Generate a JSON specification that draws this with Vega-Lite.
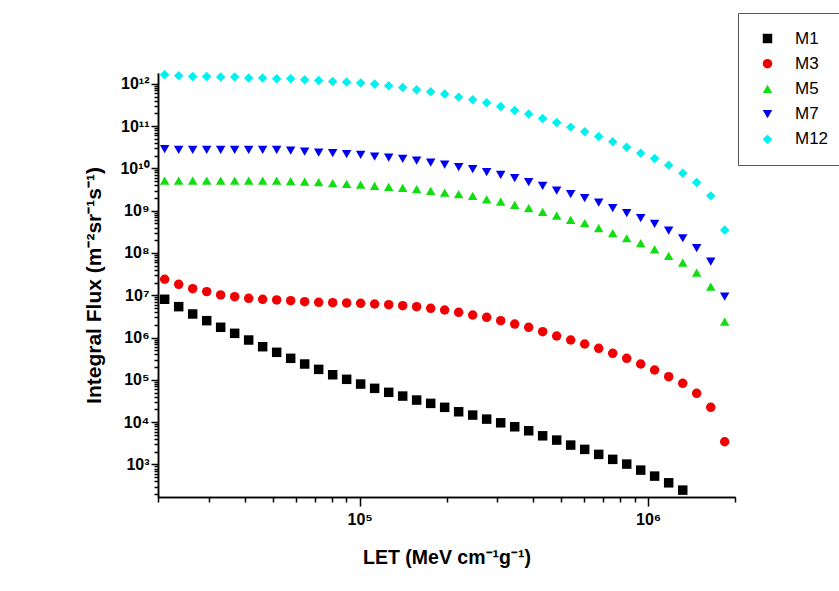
{
  "$schema": "https://vega.github.io/schema/vega-lite/v6.json",
  "width": 577,
  "height": 424,
  "autosize": "none",
  "padding": {"left": 158, "top": 73, "right": 104, "bottom": 94},
  "background": "white",
  "config": {"view": {"stroke": null}, "font": "Liberation Sans"},
  "datasets": {
    "flux": [
      {"s":"M1","x":21090,"y":8.04e6},{"s":"M1","x":23590,"y":5.38e6},{"s":"M1","x":26380,"y":3.61e6},{"s":"M1","x":29500,"y":2.51e6},{"s":"M1","x":32980,"y":1.75e6},{"s":"M1","x":36880,"y":1.26e6},{"s":"M1","x":41240,"y":8.75e5},{"s":"M1","x":46110,"y":6.08e5},{"s":"M1","x":51570,"y":4.48e5},{"s":"M1","x":57670,"y":3.23e5},{"s":"M1","x":64480,"y":2.37e5},{"s":"M1","x":72100,"y":1.77e5},{"s":"M1","x":80640,"y":1.32e5},{"s":"M1","x":90150,"y":1.03e5},{"s":"M1","x":100800,"y":7.96e4},{"s":"M1","x":112700,"y":6.30e4},{"s":"M1","x":126100,"y":5.07e4},{"s":"M1","x":141000,"y":4.14e4},{"s":"M1","x":157600,"y":3.33e4},{"s":"M1","x":176300,"y":2.78e4},{"s":"M1","x":197100,"y":2.24e4},{"s":"M1","x":220400,"y":1.76e4},{"s":"M1","x":246500,"y":1.47e4},{"s":"M1","x":275600,"y":1.18e4},{"s":"M1","x":308200,"y":9660},{"s":"M1","x":344700,"y":7780},{"s":"M1","x":385400,"y":6250},{"s":"M1","x":430900,"y":4760},{"s":"M1","x":481900,"y":3770},{"s":"M1","x":538900,"y":2870},{"s":"M1","x":602600,"y":2270},{"s":"M1","x":673900,"y":1730},{"s":"M1","x":753700,"y":1320},{"s":"M1","x":842700,"y":1020},{"s":"M1","x":942200,"y":735},{"s":"M1","x":1053000,"y":530},{"s":"M1","x":1178000,"y":368},{"s":"M1","x":1318000,"y":247},
      {"s":"M3","x":21090,"y":2.39e7},{"s":"M3","x":23590,"y":1.82e7},{"s":"M3","x":26380,"y":1.43e7},{"s":"M3","x":29500,"y":1.22e7},{"s":"M3","x":32980,"y":1.02e7},{"s":"M3","x":36880,"y":9.27e6},{"s":"M3","x":41240,"y":8.48e6},{"s":"M3","x":46110,"y":8.04e6},{"s":"M3","x":51570,"y":7.74e6},{"s":"M3","x":57670,"y":7.45e6},{"s":"M3","x":64480,"y":7.06e6},{"s":"M3","x":72100,"y":6.83e6},{"s":"M3","x":80640,"y":6.68e6},{"s":"M3","x":90150,"y":6.58e6},{"s":"M3","x":100800,"y":6.46e6},{"s":"M3","x":112700,"y":6.22e6},{"s":"M3","x":126100,"y":6.00e6},{"s":"M3","x":141000,"y":5.68e6},{"s":"M3","x":157600,"y":5.38e6},{"s":"M3","x":176300,"y":4.92e6},{"s":"M3","x":197100,"y":4.49e6},{"s":"M3","x":220400,"y":3.96e6},{"s":"M3","x":246500,"y":3.42e6},{"s":"M3","x":275600,"y":3.01e6},{"s":"M3","x":308200,"y":2.51e6},{"s":"M3","x":344700,"y":2.09e6},{"s":"M3","x":385400,"y":1.75e6},{"s":"M3","x":430900,"y":1.38e6},{"s":"M3","x":481900,"y":1.09e6},{"s":"M3","x":538900,"y":8.75e5},{"s":"M3","x":602600,"y":7.04e5},{"s":"M3","x":673900,"y":5.57e5},{"s":"M3","x":753700,"y":4.25e5},{"s":"M3","x":842700,"y":3.23e5},{"s":"M3","x":942200,"y":2.37e5},{"s":"M3","x":1053000,"y":1.71e5},{"s":"M3","x":1178000,"y":1.19e5},{"s":"M3","x":1318000,"y":8.28e4},{"s":"M3","x":1473000,"y":4.80e4},{"s":"M3","x":1648000,"y":2.24e4},{"s":"M3","x":1842000,"y":3440},
      {"s":"M5","x":21090,"y":5.15e9},{"s":"M5","x":23590,"y":5.15e9},{"s":"M5","x":26380,"y":5.15e9},{"s":"M5","x":29500,"y":5.15e9},{"s":"M5","x":32980,"y":5.15e9},{"s":"M5","x":36880,"y":5.15e9},{"s":"M5","x":41240,"y":5.15e9},{"s":"M5","x":46110,"y":5.15e9},{"s":"M5","x":51570,"y":5.15e9},{"s":"M5","x":57670,"y":4.98e9},{"s":"M5","x":64480,"y":4.89e9},{"s":"M5","x":72100,"y":4.72e9},{"s":"M5","x":80640,"y":4.47e9},{"s":"M5","x":90150,"y":4.31e9},{"s":"M5","x":100800,"y":4.15e9},{"s":"M5","x":112700,"y":3.86e9},{"s":"M5","x":126100,"y":3.65e9},{"s":"M5","x":141000,"y":3.46e9},{"s":"M5","x":157600,"y":3.22e9},{"s":"M5","x":176300,"y":2.94e9},{"s":"M5","x":197100,"y":2.68e9},{"s":"M5","x":220400,"y":2.45e9},{"s":"M5","x":246500,"y":2.24e9},{"s":"M5","x":275600,"y":1.86e9},{"s":"M5","x":308200,"y":1.64e9},{"s":"M5","x":344700,"y":1.37e9},{"s":"M5","x":385400,"y":1.15e9},{"s":"M5","x":430900,"y":9.36e8},{"s":"M5","x":481900,"y":7.66e8},{"s":"M5","x":538900,"y":6.06e8},{"s":"M5","x":602600,"y":5.06e8},{"s":"M5","x":673900,"y":3.85e8},{"s":"M5","x":753700,"y":2.93e8},{"s":"M5","x":842700,"y":2.23e8},{"s":"M5","x":942200,"y":1.70e8},{"s":"M5","x":1053000,"y":1.22e8},{"s":"M5","x":1178000,"y":8.51e7},{"s":"M5","x":1318000,"y":5.91e7},{"s":"M5","x":1473000,"y":3.43e7},{"s":"M5","x":1648000,"y":1.60e7},{"s":"M5","x":1842000,"y":2.37e6},
      {"s":"M7","x":21090,"y":2.85e10},{"s":"M7","x":23590,"y":2.74e10},{"s":"M7","x":26380,"y":2.74e10},{"s":"M7","x":29500,"y":2.74e10},{"s":"M7","x":32980,"y":2.74e10},{"s":"M7","x":36880,"y":2.74e10},{"s":"M7","x":41240,"y":2.74e10},{"s":"M7","x":46110,"y":2.74e10},{"s":"M7","x":51570,"y":2.74e10},{"s":"M7","x":57670,"y":2.64e10},{"s":"M7","x":64480,"y":2.50e10},{"s":"M7","x":72100,"y":2.37e10},{"s":"M7","x":80640,"y":2.29e10},{"s":"M7","x":90150,"y":2.17e10},{"s":"M7","x":100800,"y":2.09e10},{"s":"M7","x":112700,"y":1.90e10},{"s":"M7","x":126100,"y":1.80e10},{"s":"M7","x":141000,"y":1.68e10},{"s":"M7","x":157600,"y":1.53e10},{"s":"M7","x":176300,"y":1.37e10},{"s":"M7","x":197100,"y":1.23e10},{"s":"M7","x":220400,"y":1.07e10},{"s":"M7","x":246500,"y":9.57e9},{"s":"M7","x":275600,"y":8.13e9},{"s":"M7","x":308200,"y":7.03e9},{"s":"M7","x":344700,"y":5.86e9},{"s":"M7","x":385400,"y":4.72e9},{"s":"M7","x":430900,"y":3.86e9},{"s":"M7","x":481900,"y":2.99e9},{"s":"M7","x":538900,"y":2.45e9},{"s":"M7","x":602600,"y":1.97e9},{"s":"M7","x":673900,"y":1.55e9},{"s":"M7","x":753700,"y":1.15e9},{"s":"M7","x":842700,"y":8.72e8},{"s":"M7","x":942200,"y":6.64e8},{"s":"M7","x":1053000,"y":4.87e8},{"s":"M7","x":1178000,"y":3.38e8},{"s":"M7","x":1318000,"y":2.23e8},{"s":"M7","x":1473000,"y":1.30e8},{"s":"M7","x":1648000,"y":6.24e7},{"s":"M7","x":1842000,"y":9.27e6},
      {"s":"M12","x":21090,"y":1.63e12},{"s":"M12","x":23590,"y":1.55e12},{"s":"M12","x":26380,"y":1.49e12},{"s":"M12","x":29500,"y":1.49e12},{"s":"M12","x":32980,"y":1.44e12},{"s":"M12","x":36880,"y":1.44e12},{"s":"M12","x":41240,"y":1.37e12},{"s":"M12","x":46110,"y":1.37e12},{"s":"M12","x":51570,"y":1.31e12},{"s":"M12","x":57670,"y":1.31e12},{"s":"M12","x":64480,"y":1.24e12},{"s":"M12","x":72100,"y":1.20e12},{"s":"M12","x":80640,"y":1.13e12},{"s":"M12","x":90150,"y":1.10e12},{"s":"M12","x":100800,"y":1.04e12},{"s":"M12","x":112700,"y":9.84e11},{"s":"M12","x":126100,"y":8.97e11},{"s":"M12","x":141000,"y":8.17e11},{"s":"M12","x":157600,"y":7.21e11},{"s":"M12","x":176300,"y":6.47e11},{"s":"M12","x":197100,"y":5.71e11},{"s":"M12","x":220400,"y":4.84e11},{"s":"M12","x":246500,"y":4.18e11},{"s":"M12","x":275600,"y":3.55e11},{"s":"M12","x":308200,"y":2.90e11},{"s":"M12","x":344700,"y":2.34e11},{"s":"M12","x":385400,"y":1.92e11},{"s":"M12","x":430900,"y":1.51e11},{"s":"M12","x":481900,"y":1.22e11},{"s":"M12","x":538900,"y":9.45e10},{"s":"M12","x":602600,"y":7.31e10},{"s":"M12","x":673900,"y":5.66e10},{"s":"M12","x":753700,"y":4.24e10},{"s":"M12","x":842700,"y":3.18e10},{"s":"M12","x":942200,"y":2.29e10},{"s":"M12","x":1053000,"y":1.71e10},{"s":"M12","x":1178000,"y":1.19e10},{"s":"M12","x":1318000,"y":7.71e9},{"s":"M12","x":1473000,"y":4.62e9},{"s":"M12","x":1648000,"y":2.24e9},{"s":"M12","x":1842000,"y":3.51e8}
    ]
  },
  "data": {"name": "flux"},
  "resolve": {"axis": {"x": "independent", "y": "independent"}},
  "layer": [
    {
      "mark": {"type": "point", "filled": true, "opacity": 0, "size": 10},
      "encoding": {
        "x": {
          "field": "x", "type": "quantitative",
          "scale": {"type": "log", "domain": [20000, 2000000], "nice": false},
          "axis": {
            "orient": "bottom",
            "values": [20000,30000,40000,50000,60000,70000,80000,90000,200000,300000,400000,500000,600000,700000,800000,900000,2000000],
            "labels": false, "title": null,
            "domainColor": "black", "domainWidth": 1.5,
            "tickColor": "black", "tickWidth": 1.5, "tickSize": 5,
            "grid": false
          }
        },
        "y": {
          "field": "y", "type": "quantitative",
          "scale": {"type": "log", "domain": [170, 1.8e12], "nice": false},
          "axis": {
            "orient": "left",
            "values": [2e2,3e2,4e2,5e2,6e2,7e2,8e2,9e2,2e3,3e3,4e3,5e3,6e3,7e3,8e3,9e3,2e4,3e4,4e4,5e4,6e4,7e4,8e4,9e4,2e5,3e5,4e5,5e5,6e5,7e5,8e5,9e5,2e6,3e6,4e6,5e6,6e6,7e6,8e6,9e6,2e7,3e7,4e7,5e7,6e7,7e7,8e7,9e7,2e8,3e8,4e8,5e8,6e8,7e8,8e8,9e8,2e9,3e9,4e9,5e9,6e9,7e9,8e9,9e9,2e10,3e10,4e10,5e10,6e10,7e10,8e10,9e10,2e11,3e11,4e11,5e11,6e11,7e11,8e11,9e11],
            "labels": false, "title": null,
            "domainColor": "black", "domainWidth": 1.5,
            "tickColor": "black", "tickWidth": 1.5, "tickSize": 4,
            "grid": false
          }
        }
      }
    },
    {
      "mark": {"type": "point", "filled": true, "opacity": 1, "size": 90, "strokeWidth": 0},
      "encoding": {
        "x": {
          "field": "x", "type": "quantitative",
          "axis": {
            "orient": "bottom",
            "values": [100000, 1000000],
            "labelExpr": "datum.value == 100000 ? '10⁵' : '10⁶'",
            "title": "LET (MeV cm⁻¹g⁻¹)",
            "titleFontSize": 19.5, "titleFontWeight": "bold", "titleColor": "black",
            "titleY": 60, "titleBaseline": "middle",
            "labelFontSize": 16, "labelFontWeight": "bold", "labelColor": "black",
            "labelPadding": 5, "labelFlush": false, "labelOverlap": false,
            "domainColor": "black", "domainWidth": 1.5,
            "tickColor": "black", "tickWidth": 1.5, "tickSize": 9,
            "grid": false
          }
        },
        "y": {
          "field": "y", "type": "quantitative",
          "axis": {
            "orient": "left",
            "values": [1e3,1e4,1e5,1e6,1e7,1e8,1e9,1e10,1e11,1e12],
            "labelExpr": "datum.value == 1e3 ? '10³' : datum.value == 1e4 ? '10⁴' : datum.value == 1e5 ? '10⁵' : datum.value == 1e6 ? '10⁶' : datum.value == 1e7 ? '10⁷' : datum.value == 1e8 ? '10⁸' : datum.value == 1e9 ? '10⁹' : datum.value == 1e10 ? '10¹⁰' : datum.value == 1e11 ? '10¹¹' : '10¹²'",
            "title": "Integral Flux (m⁻²sr⁻¹s⁻¹)",
            "titleFontSize": 21, "titleFontWeight": "bold", "titleColor": "black",
            "titleX": -64, "titleBaseline": "middle",
            "labelFontSize": 16, "labelFontWeight": "bold", "labelColor": "black",
            "labelPadding": 2, "labelOverlap": false, "labelFlush": false,
            "domainColor": "black", "domainWidth": 1.5,
            "tickColor": "black", "tickWidth": 1.5, "tickSize": 7,
            "grid": false
          }
        },
        "color": {
          "field": "s", "type": "nominal",
          "scale": {"domain": ["M1","M3","M5","M7","M12"], "range": ["#000000","#f00000","#11dd11","#0000ee","#00f0f0"]},
          "legend": {
            "orient": "none", "legendX": 580, "legendY": -60,
            "title": null, "padding": 17,
            "strokeColor": "#555555", "fillColor": "white",
            "labelFontSize": 17, "labelColor": "black", "labelFont": "Liberation Sans",
            "symbolSize": 90, "symbolStrokeWidth": 0, "symbolOpacity": 1,
            "rowPadding": 7.2, "labelOffset": 19, "symbolOffset": 4
          }
        },
        "shape": {
          "field": "s", "type": "nominal",
          "scale": {"domain": ["M1","M3","M5","M7","M12"], "range": ["square","circle","triangle-up","triangle-down","diamond"]}
        }
      }
    }
  ]
}
